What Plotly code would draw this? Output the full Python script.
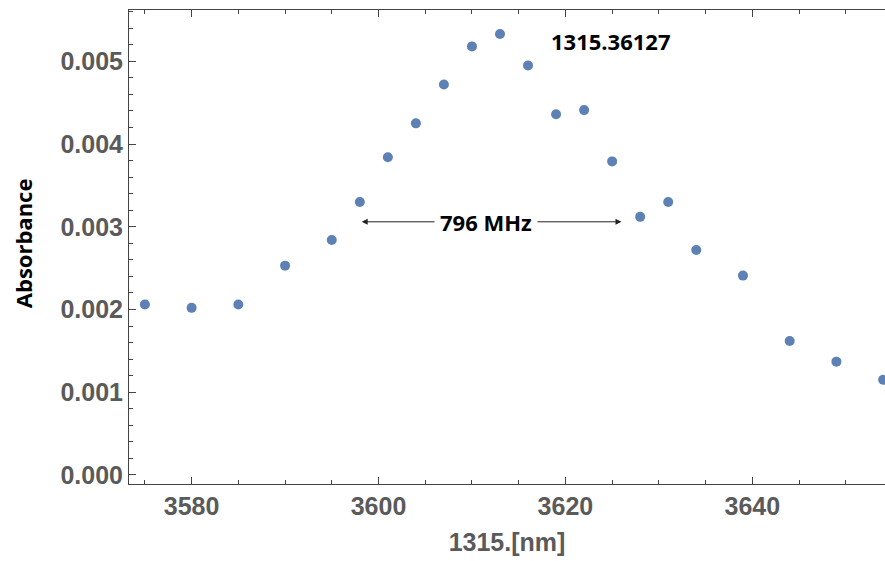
import plotly.graph_objects as go

# Data
wavenumber = [3575, 3580, 3585, 3590, 3595, 3598, 3601, 3604, 3607, 3610, 3613,
              3616, 3619, 3622, 3625, 3628, 3631, 3634, 3639, 3644, 3649, 3654]
absorbance = [0.00206, 0.00202, 0.00206, 0.00253, 0.00284, 0.00330, 0.00384,
              0.00425, 0.00472, 0.00518, 0.00533, 0.00495, 0.00436, 0.00441,
              0.00379, 0.00312, 0.00330, 0.00272, 0.00241, 0.00162, 0.00137,
              0.00115]
peak_label = "1315.36127"
width_label = "796 MHz"
x_title = "1315.[nm]"
y_title = "Absorbance"

x_range = [3573.3, 3654.2]
y_range = [-0.000109, 0.00562]

arrow_left, arrow_right, arrow_y = 3598.2, 3626.0, 0.00306
arrow_mid = 3611.5
peak_x, peak_y = 3624.84, 0.005245

fig = go.Figure()
fig.add_trace(go.Scatter(
    x=wavenumber, y=absorbance, mode="markers",
    marker=dict(color="#5e81b5", size=10),
    showlegend=False, cliponaxis=False,
))

tick_font = dict(family="Liberation Sans, Arial, sans-serif", size=25, color="#5a5a5a", weight="bold")
label_font = dict(family="Open Sans, sans-serif", size=22, color="black")

fig.update_layout(
    width=885, height=561,
    margin=dict(l=129, r=0, t=10, b=77),
    paper_bgcolor="white", plot_bgcolor="white",
    xaxis=dict(
        range=x_range, showgrid=False, zeroline=False,
        showline=True, linecolor="#444", linewidth=1, mirror="ticks",
        ticks="inside", ticklen=7, tickcolor="#444", tickwidth=1,
        tick0=3580, dtick=20, tickfont=tick_font,
        minor=dict(ticks="inside", ticklen=4, tickcolor="#444", dtick=5, tick0=3575, showgrid=False),
        title=dict(text=x_title, font=tick_font, standoff=14),
    ),
    yaxis=dict(
        range=y_range, showgrid=False, zeroline=False,
        showline=True, linecolor="#444", linewidth=1, mirror=False,
        ticks="inside", ticklen=7, tickcolor="#444", tickwidth=1,
        tick0=0, dtick=0.001, tickformat=".3f", tickfont=tick_font,
        minor=dict(ticks="inside", ticklen=4, tickcolor="#444", dtick=0.0002, tick0=0, showgrid=False),
    ),
)

# y-axis title
fig.add_annotation(
    xref="paper", yref="paper", x=-0.1402, y=0.508, text="<b>%s</b>" % y_title,
    textangle=-90, showarrow=False, xanchor="center", yanchor="middle",
    font=label_font,
)

# double-headed arrow for the width
for tip in (arrow_left, arrow_right):
    fig.add_annotation(
        x=tip, y=arrow_y, ax=arrow_mid, ay=arrow_y,
        xref="x", yref="y", axref="x", ayref="y",
        text="", showarrow=True, arrowhead=2, arrowsize=1.2, arrowwidth=1,
        arrowcolor="#222",
    )
fig.add_annotation(
    x=arrow_mid, y=arrow_y, xref="x", yref="y", text="<b>%s</b>" % width_label,
    showarrow=False, bgcolor="white", borderpad=5, font=label_font,
    xanchor="center", yanchor="middle",
)
fig.add_annotation(
    x=peak_x, y=peak_y, xref="x", yref="y", text="<b>%s</b>" % peak_label,
    showarrow=False, font=label_font, xanchor="center", yanchor="middle",
)

fig.write_html(
    "out.html",
    config={"displayModeBar": False},
    post_script="document.body.style.margin='0';document.body.style.overflow='hidden';",
)
